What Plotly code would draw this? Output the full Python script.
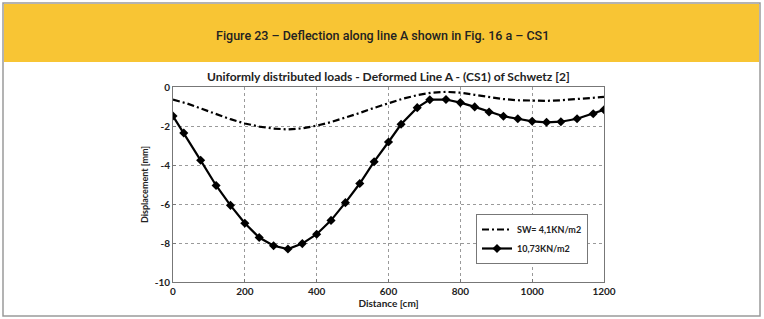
import plotly.graph_objects as go

# Data
dist_load = [0, 30, 77, 120, 160, 200, 240, 280, 320, 360, 400, 440, 480, 520, 560,
             600, 635, 680, 715, 760, 800, 840, 880, 920, 960, 1000, 1040, 1080, 1125, 1170, 1200]
disp_load = [-1.49, -2.36, -3.76, -5.05, -6.07, -6.99, -7.72, -8.14, -8.31, -8.03, -7.55,
             -6.84, -5.93, -4.95, -3.83, -2.82, -1.91, -1.06, -0.65, -0.64, -0.80, -1.02,
             -1.28, -1.50, -1.63, -1.76, -1.81, -1.78, -1.63, -1.37, -1.17]

dist_sw = [0, 40, 80, 120, 160, 200, 240, 280, 320, 360, 400, 440, 480, 520, 560, 600,
           640, 680, 720, 760, 800, 840, 880, 920, 960, 1000, 1040, 1080, 1120, 1160, 1200]
disp_sw = [-0.65, -0.85, -1.12, -1.40, -1.65, -1.87, -2.03, -2.13, -2.18, -2.12, -1.98,
           -1.80, -1.57, -1.33, -1.07, -0.82, -0.60, -0.42, -0.29, -0.25, -0.29, -0.40,
           -0.52, -0.62, -0.68, -0.71, -0.71, -0.68, -0.63, -0.57, -0.51]

x_ticks = [0, 200, 400, 600, 800, 1000, 1200]
y_ticks = [0, -2, -4, -6, -8, -10]

banner_title = "Figure 23 – Deflection along line A shown in Fig. 16 a – CS1"
chart_title = "Uniformly distributed loads - Deformed Line A - (CS1) of Schwetz [2]"

W, H = 764, 319
L, R, T, B = 173, 604, 87, 282  # plot area in pixels


def px(xp):
    return (xp - L) / (R - L)


def py(yp):
    return (B - yp) / (B - T)


fig = go.Figure()
fig.add_trace(go.Scatter(
    x=dist_sw, y=disp_sw, mode="lines", name="SW= 4,1KN/m2",
    line=dict(color="black", width=2.2, dash="7px,3px,2px,3px"),
))
fig.add_trace(go.Scatter(
    x=dist_load, y=disp_load, mode="lines+markers", name="10,73KN/m2",
    line=dict(color="black", width=2.2),
    marker=dict(symbol="diamond", size=7, color="black"),
))

font_fam = "Lato, Liberation Sans, sans-serif"

fig.update_layout(
    width=W, height=H,
    margin=dict(l=L, r=W - R, t=T, b=H - B),
    paper_bgcolor="white", plot_bgcolor="white",
    font=dict(family=font_fam, color="#222"),
    showlegend=True,
    legend=dict(
        x=px(588), y=py(264), xanchor="right", yanchor="bottom",
        bgcolor="white", bordercolor="#777", borderwidth=1,
        font=dict(size=9, family=font_fam, weight="bold", color="#222"),
        itemwidth=30, tracegroupgap=0,
    ),
    xaxis=dict(
        range=[0, 1200], tickvals=x_ticks, ticktext=[str(v) for v in x_ticks],
        showgrid=True, gridcolor="#9a9a9a", griddash="dot", gridwidth=1,
        showline=True, linecolor="#777", linewidth=1, mirror=True,
        zeroline=False, ticks="inside", ticklen=3, tickcolor="#777",
        tickfont=dict(size=10, family=font_fam, weight="bold", color="#222"),
        title=dict(text="Distance [cm]", standoff=1,
                   font=dict(size=10, family=font_fam, weight="bold", color="#222")),
    ),
    yaxis=dict(
        range=[-10, 0], tickvals=y_ticks, ticktext=[str(v) for v in y_ticks],
        showgrid=True, gridcolor="#9a9a9a", griddash="dot", gridwidth=1,
        showline=True, linecolor="#777", linewidth=1, mirror=True,
        zeroline=False, ticks="inside", ticklen=3, tickcolor="#777",
        tickfont=dict(size=10, family=font_fam, weight="bold", color="#222"),
        title=dict(text="Displacement [mm]", standoff=4,
                   font=dict(size=9, family=font_fam, weight="bold", color="#222")),
    ),
    shapes=[
        dict(type="rect", xref="paper", yref="paper",
             x0=px(3), x1=px(760), y0=py(316), y1=py(3),
             line=dict(color="#9a9a9a", width=1.5), fillcolor="rgba(0,0,0,0)", layer="below"),
        dict(type="rect", xref="paper", yref="paper",
             x0=px(4), x1=px(759), y0=py(62), y1=py(4),
             line=dict(width=0), fillcolor="#F8C534", layer="below"),
    ],
    annotations=[
        dict(text=banner_title, xref="paper", yref="paper", x=px(382), y=py(35),
             showarrow=False, xanchor="center", yanchor="middle",
             font=dict(size=12.5, family="Roboto, sans-serif", weight=500,
                       color="#222")),
        dict(text=chart_title, xref="paper", yref="paper", x=px(388), y=py(76),
             showarrow=False, xanchor="center", yanchor="middle",
             font=dict(size=12, family=font_fam, weight="bold", color="#222")),
    ],
)

fig.write_html("out.html")
